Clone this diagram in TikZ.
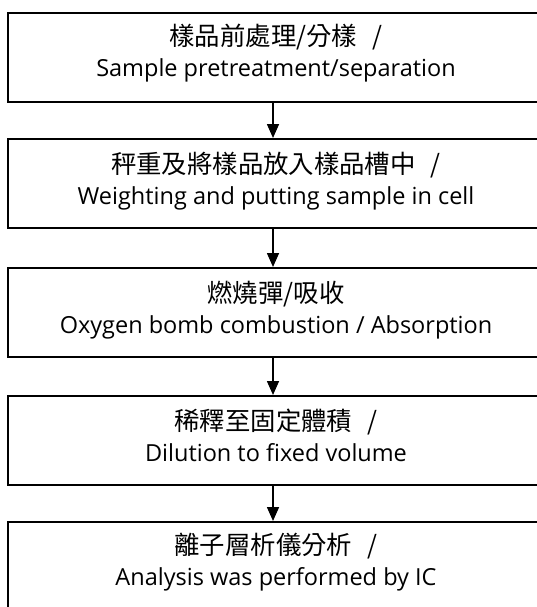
\documentclass[tikz,border=0pt]{standalone}
\usepackage{fontspec}
\setmainfont{Open Sans}
\newfontfamily\cjk[Scale=1.08]{Noto Sans CJK TC}
\usetikzlibrary{arrows.meta}
\tikzset{
  stepbox/.style={draw, line width=1.6pt, minimum width=560pt, minimum height=89pt, anchor=north west, inner sep=0pt},
  steptext/.style={align=center, anchor=north, font=\fontsize{23.5pt}{31pt}\selectfont, inner sep=0pt},
  flow/.style={line width=1.6pt, -{Triangle[length=14pt,width=12pt]}}
}
\begin{document}
\begin{tikzpicture}[x=1pt,y=1pt]
\useasboundingbox (0,0) rectangle (536,-607);
\coordinate (ax) at (273,0);
\node[stepbox] (b1) at (7,-12) {};
\node[stepbox] (b2) at (7,-138) {};
\node[stepbox] (b3) at (7,-267) {};
\node[stepbox] (b4) at (7,-395) {};
\node[stepbox] (b5) at (7,-521) {};
\node[steptext] (t1) at ([yshift=-12pt]b1.north -| 276,0) {{\cjk 樣品前處理/分樣\hspace{0.6em}/}\\Sample pretreatment/separation};
\node[steptext] (t2) at ([yshift=-14pt]b2.north -| 276,0) {{\cjk 秤重及將樣品放入樣品槽中\hspace{0.6em}/}\\Weighting and putting sample in cell};
\node[steptext] (t3) at ([yshift=-14pt]b3.north -| 276,0) {{\cjk 燃燒彈/吸收}\\Oxygen bomb combustion / Absorption};
\node[steptext] (t4) at ([yshift=-14pt]b4.north -| 276,0) {{\cjk 稀釋至固定體積\hspace{0.6em}/}\\Dilution to fixed volume};
\node[steptext] (t5) at ([yshift=-12pt]b5.north -| 276,0) {{\cjk 離子層析儀分析\hspace{0.6em}/}\\Analysis was performed by IC};
\draw[flow] (b1.south -| ax) -- (b2.north -| ax);
\draw[flow] (b2.south -| ax) -- (b3.north -| ax);
\draw[flow] (b3.south -| ax) -- (b4.north -| ax);
\draw[flow] (b4.south -| ax) -- (b5.north -| ax);
\end{tikzpicture}
\end{document}
